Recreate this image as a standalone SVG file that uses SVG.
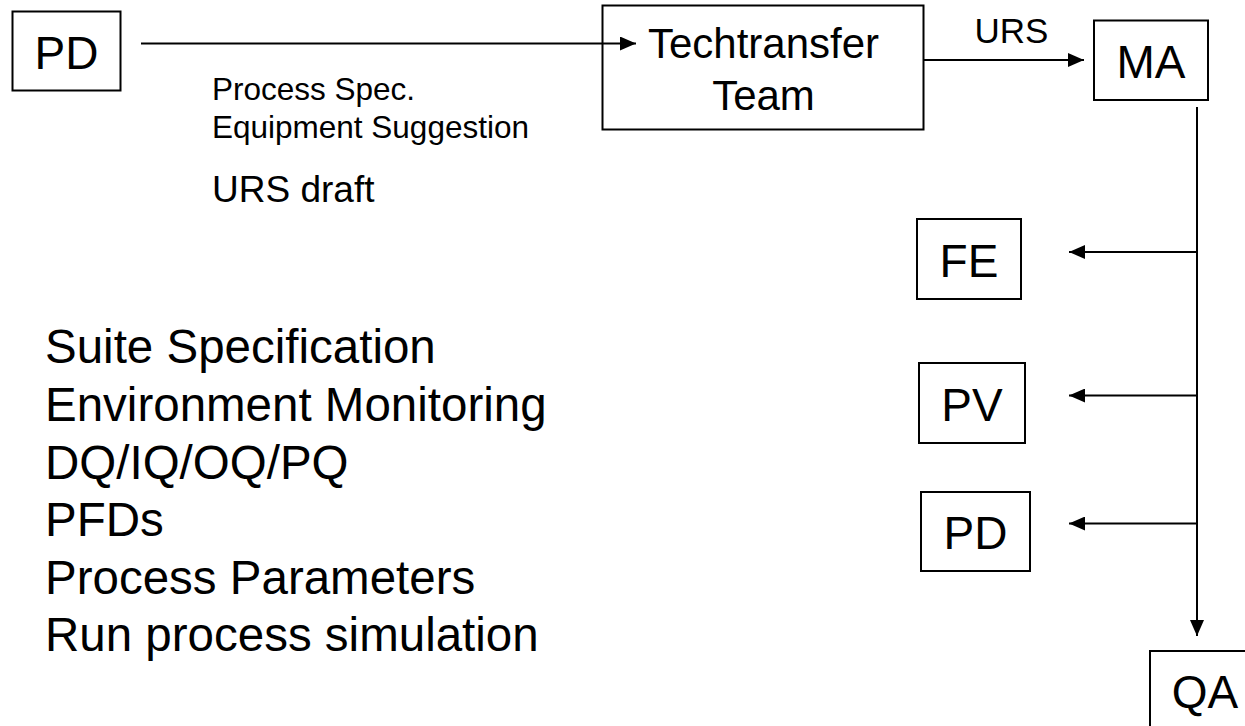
<svg xmlns="http://www.w3.org/2000/svg" width="1245" height="726" viewBox="0 0 1245 726">
  <style>
    .box { fill: #ffffff; stroke: #000000; stroke-width: 2; }
    .node { font-family: "Liberation Sans", Arial, sans-serif; font-size: 46px; fill: #000000; text-anchor: middle; }
    .team { font-family: "Liberation Sans", Arial, sans-serif; font-size: 42px; fill: #000000; text-anchor: middle; }
    .lbl { font-family: "Liberation Sans", Arial, sans-serif; fill: #000000; }
    .wire { fill: none; stroke: #000000; stroke-width: 2; }
  </style>
  <defs>
    <marker id="head" markerUnits="userSpaceOnUse" markerWidth="16" markerHeight="14" refX="16" refY="7" orient="auto">
      <path d="M0,0 L16,7 L0,14 z" fill="#000000"/>
    </marker>
  </defs>

  <rect width="1245" height="726" fill="#ffffff"/>

  <!-- nodes -->
  <g id="node-pd-source">
    <rect class="box" x="12.5" y="11.5" width="108" height="79"/>
    <text class="node" x="66.5" y="69">PD</text>
  </g>

  <g id="node-techtransfer">
    <rect class="box" x="602.5" y="5.5" width="321" height="124"/>
    <text class="team" x="763.5" y="58">Techtransfer</text>
    <text class="team" x="763.5" y="110">Team</text>
  </g>

  <g id="node-ma">
    <rect class="box" x="1094" y="20.5" width="114" height="79.5"/>
    <text class="node" x="1151" y="78">MA</text>
  </g>

  <g id="node-fe">
    <rect class="box" x="917" y="219" width="104" height="80"/>
    <text class="node" x="969" y="276.5">FE</text>
  </g>

  <g id="node-pv">
    <rect class="box" x="919" y="363" width="106" height="80"/>
    <text class="node" x="972" y="420.5">PV</text>
  </g>

  <g id="node-pd-target">
    <rect class="box" x="921" y="492" width="109" height="79"/>
    <text class="node" x="975.5" y="548.5">PD</text>
  </g>

  <g id="node-qa">
    <rect class="box" x="1150" y="651" width="112" height="82"/>
    <text class="node" x="1205" y="708">QA</text>
  </g>

  <!-- connectors -->
  <g id="connectors">
    <line class="wire" x1="141" y1="43.5" x2="636" y2="43.5" marker-end="url(#head)"/>
    <line class="wire" x1="924" y1="60" x2="1084" y2="60" marker-end="url(#head)"/>
    <line class="wire" x1="1197" y1="107" x2="1197" y2="636" marker-end="url(#head)"/>
    <line class="wire" x1="1197" y1="252" x2="1069" y2="252" marker-end="url(#head)"/>
    <line class="wire" x1="1197" y1="395.5" x2="1069" y2="395.5" marker-end="url(#head)"/>
    <line class="wire" x1="1197" y1="523.5" x2="1069" y2="523.5" marker-end="url(#head)"/>
  </g>

  <!-- connector labels -->
  <g id="labels">
    <text class="lbl" x="1011.5" y="43" font-size="35" text-anchor="middle">URS</text>
    <text class="lbl" x="212" y="100" font-size="31.5">Process Spec.</text>
    <text class="lbl" x="212" y="137.5" font-size="31.5">Equipment Suggestion</text>
    <text class="lbl" x="212" y="201.5" font-size="37">URS draft</text>
  </g>

  <!-- deliverables list -->
  <g id="deliverables" class="lbl" font-size="47.5">
    <text x="45" y="363">Suite Specification</text>
    <text x="45" y="421">Environment Monitoring</text>
    <text x="45" y="478.5">DQ/IQ/OQ/PQ</text>
    <text x="45" y="536">PFDs</text>
    <text x="45" y="593.5">Process Parameters</text>
    <text x="45" y="651">Run process simulation</text>
  </g>
</svg>
